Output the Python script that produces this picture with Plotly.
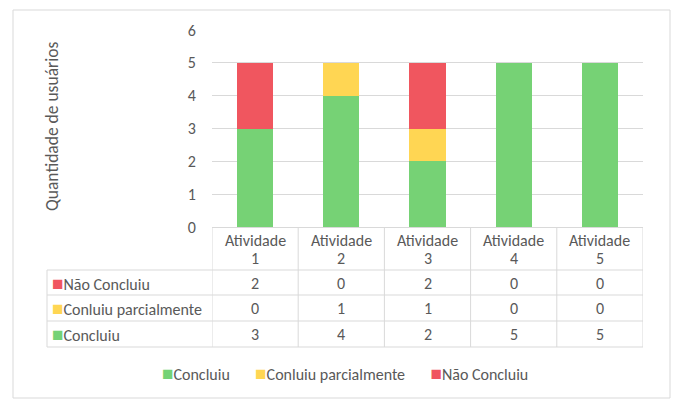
import plotly.graph_objects as go

categories = ["Atividade 1", "Atividade 2", "Atividade 3", "Atividade 4", "Atividade 5"]
header_top = ["Atividade", "Atividade", "Atividade", "Atividade", "Atividade"]
header_bottom = ["1", "2", "3", "4", "5"]
concluiu = [3, 4, 2, 5, 5]
parcial = [0, 1, 1, 0, 0]
nao_concluiu = [2, 0, 2, 0, 0]

series_names = ["Concluiu", "Conluiu parcialmente", "Não Concluiu"]
series_values = [concluiu, parcial, nao_concluiu]
colors = ["#76D275", "#FFD653", "#F0565F"]

FONT = "Carlito, Lato, sans-serif"
TXT = "#595959"
GRID = "#D9D9D9"
FS = 16

fig = go.Figure()
for name, vals, col in zip(series_names, series_values, colors):
    fig.add_trace(go.Bar(x=categories, y=vals, name=name, marker_color=col,
                         marker_line_width=0))

W, H = 684, 405
L, R, T, B = 212, 41, 30, 178
pw = W - L - R
ph = H - T - B

def px(xpix):
    return (xpix - L) / pw

def py(ypix):
    return (H - B - ypix) / ph

shapes = []
ann = []

def text(x, y, s, xref="paper", xanchor="center", size=FS, **kw):
    ann.append(dict(x=x, y=y, xref=xref, yref="paper", text=s, showarrow=False,
                    xanchor=xanchor, yanchor="middle",
                    font=dict(family=FONT, size=size, color=TXT), **kw))

def swatch(c):
    return f"<span style='color:{c};font-size:19px'>■</span>"

# outer border
shapes.append(dict(type="rect", xref="paper", yref="paper", x0=px(13), x1=px(670),
                   y0=py(398), y1=py(10), line=dict(color=GRID, width=1), layer="below"))

# data table lines
row_lines = [270, 295, 321, 347]
for yl in row_lines:
    shapes.append(dict(type="line", xref="paper", yref="paper", x0=px(47), x1=1,
                       y0=py(yl), y1=py(yl), line=dict(color=GRID, width=1)))
n = len(categories)
for i in range(n + 1):
    shapes.append(dict(type="line", xref="x", yref="paper", x0=i - 0.5, x1=i - 0.5,
                       y0=0, y1=py(347), line=dict(color=GRID, width=1)))
shapes.append(dict(type="line", xref="paper", yref="paper", x0=px(47), x1=px(47),
                   y0=py(270), y1=py(347), line=dict(color=GRID, width=1)))

# header
for i in range(n):
    text(categories[i], py(240), header_top[i], xref="x")
    text(categories[i], py(258), header_bottom[i], xref="x")

# rows
row_order = [2, 1, 0]
row_centers = [283, 308, 334]
for r, yc in zip(row_order, row_centers):
    text(px(50), py(yc), f"{swatch(colors[r])}{series_names[r]}", xanchor="left")
    for i, v in enumerate(series_values[r]):
        text(categories[i], py(yc), str(v), xref="x")

# bottom legend
legend_text = "       ".join(
    f"{swatch(c)}{nm}" for nm, c in zip(series_names, colors))
text(px(345), py(373), legend_text)

# y-axis title
text(px(52), py(127), "Quantidade de usuários", size=17.5, textangle=-90)

fig.update_layout(
    width=W, height=H,
    margin=dict(l=L, r=R, t=T, b=B),
    paper_bgcolor="white", plot_bgcolor="white",
    barmode="stack", bargap=0.58,
    font=dict(family=FONT, size=FS, color=TXT),
    showlegend=False,
    shapes=shapes, annotations=ann,
    xaxis=dict(showticklabels=False, showgrid=False, showline=True, linecolor=GRID,
               zeroline=False, range=[-0.5, n - 0.5]),
    yaxis=dict(range=[0, 6], dtick=1, showgrid=True, gridcolor=GRID, zeroline=False,
               showline=False, ticks="outside", ticklen=12, tickcolor="rgba(0,0,0,0)",
               tickfont=dict(family=FONT, size=FS, color=TXT)),
)

fig.write_html("out.html")
